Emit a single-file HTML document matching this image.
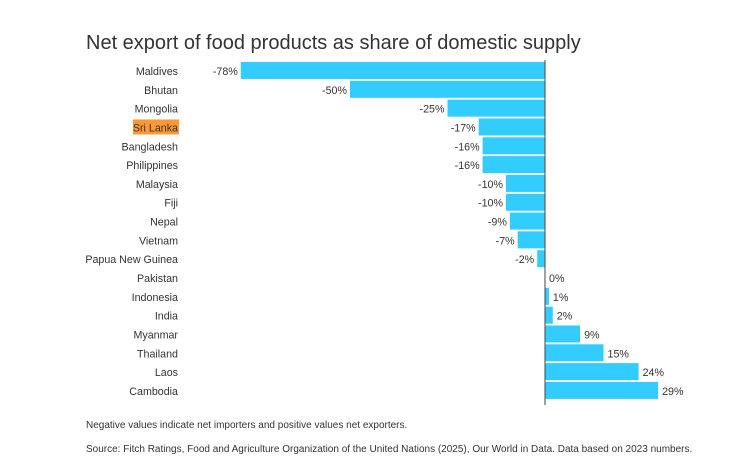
<!DOCTYPE html>
<html><head><meta charset="utf-8"><style>
body{margin:0;background:#fff;font-family:"Liberation Sans",sans-serif;}
#c{position:relative;width:750px;height:461px;overflow:hidden}
</style></head><body>
<div id="c">
<svg id="s" width="750" height="461">
<text x="86" y="49" font-size="20" fill="#333">Net export of food products as share of domestic supply</text>
<g id="bars"></g>
<line x1="545" y1="60" x2="545" y2="405" stroke="#444" stroke-width="1"/>
<text x="86" y="428" font-size="10" fill="#333">Negative values indicate net importers and positive values net exporters.</text>
<text x="86" y="452" font-size="10" fill="#333">Source: Fitch Ratings, Food and Agriculture Organization of the United Nations (2025), Our World in Data. Data based on 2023 numbers.</text>
</svg>
</div>
<script>
const categories=["Maldives","Bhutan","Mongolia","Sri Lanka","Bangladesh","Philippines","Malaysia","Fiji","Nepal","Vietnam","Papua New Guinea","Pakistan","Indonesia","India","Myanmar","Thailand","Laos","Cambodia"];
const values=[-78,-50,-25,-17,-16,-16,-10,-10,-9,-7,-2,0,1,2,9,15,24,29];
const highlight="Sri Lanka";
const x0=545,k=3.9,top0=62,step=18.82,bh=17;
const xs=v=>x0+v*k;
const ys=i=>top0+i*step;
const NS="http://www.w3.org/2000/svg";
const g=document.getElementById('bars');
categories.forEach((c,i)=>{
  const v=values[i],y=ys(i);
  const r=document.createElementNS(NS,'rect');
  
  
  const a=Math.min(xs(v),x0),w=Math.abs(xs(v)-x0);
  r.setAttribute('x',a);r.setAttribute('y',y);r.setAttribute('width',w);r.setAttribute('height',bh);
  r.setAttribute('fill','#33ccff');g.appendChild(r);
  if(c===highlight){
    const hl=document.createElementNS(NS,'rect');
    
    
    hl.setAttribute('x',133);hl.setAttribute('y',y+1);hl.setAttribute('width',46);hl.setAttribute('height',15);
    hl.setAttribute('fill','#ff9933');g.appendChild(hl);
  }
  const t=document.createElementNS(NS,'text');
  
  
  t.setAttribute('x',178);t.setAttribute('y',y+13);t.setAttribute('text-anchor','end');
  t.setAttribute('font-size','10.7');t.setAttribute('fill','#333');t.textContent=c;g.appendChild(t);
  const l=document.createElementNS(NS,'text');
  
  
  l.setAttribute('x',v<0?xs(v)-3:xs(v)+4);l.setAttribute('y',y+13);
  l.setAttribute('text-anchor',v<0?'end':'start');
  l.setAttribute('font-size','10.7');l.setAttribute('fill','#333');l.textContent=v+'%';g.appendChild(l);
});
</script>
</body></html>
